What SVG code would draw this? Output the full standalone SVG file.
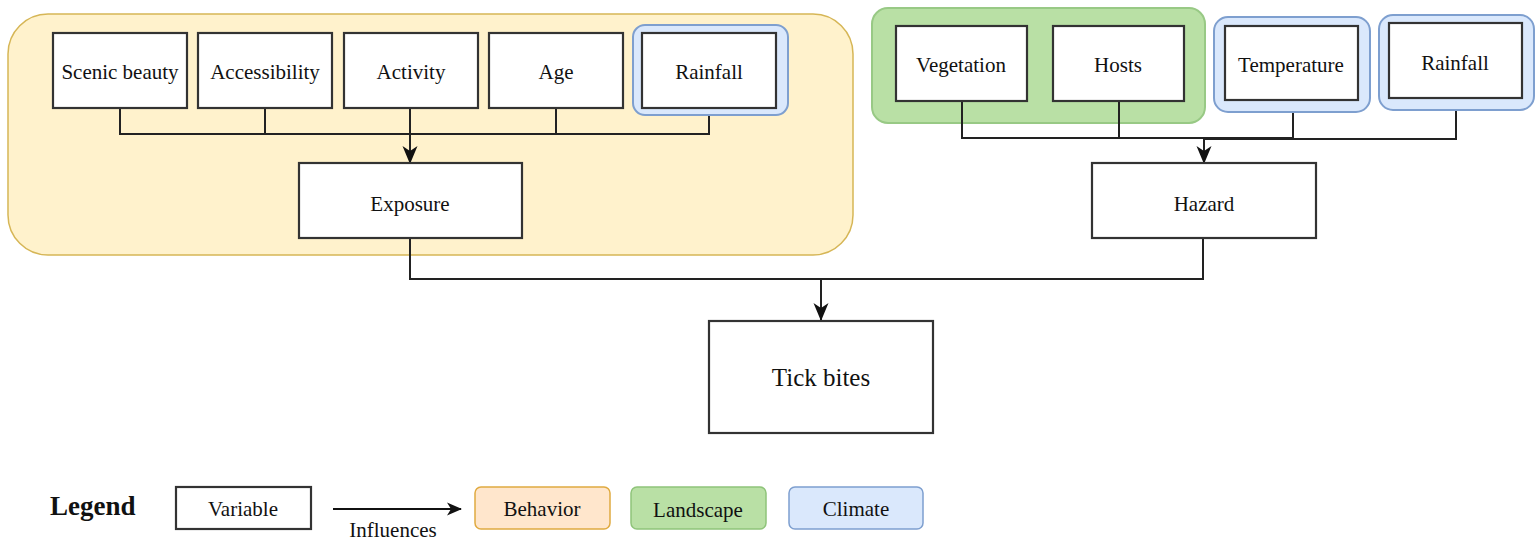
<svg xmlns="http://www.w3.org/2000/svg" width="1536" height="540" viewBox="0 0 1536 540">
<style>
  .box { fill: #ffffff; stroke: #333333; stroke-width: 2.2; }
  .lbl { font-family: "Liberation Serif", "Times New Roman", serif; font-size: 21px; fill: #111111; text-anchor: middle; }
  .conn { fill: none; stroke: #222222; stroke-width: 2; }
  .climate { fill: #dae8fc; stroke: #7e9fcf; stroke-width: 2; }
  .landscape { fill: #b9e0a5; stroke: #98c985; stroke-width: 2; }
  .behavior { fill: #fff2cc; stroke: #d6b656; stroke-width: 1.5; }
</style>
<defs>
  <marker id="arr" markerUnits="userSpaceOnUse" markerWidth="18" markerHeight="18" viewBox="0 0 18 18" refX="17" refY="9" orient="auto">
    <path d="M0,1.5 L18,9 L0,16.5 L5,9 z" fill="#111111"/>
  </marker>
  <marker id="arrs" markerUnits="userSpaceOnUse" markerWidth="15" markerHeight="15" viewBox="0 0 15 15" refX="14" refY="7.5" orient="auto">
    <path d="M0,1 L15,7.5 L0,14 L4,7.5 z" fill="#111111"/>
  </marker>
</defs>

<g id="group-behavior">
  <rect class="behavior" x="8" y="14" width="845" height="241" rx="40"/>
</g>
<g id="group-landscape">
  <rect class="landscape" x="872" y="8" width="333" height="115" rx="16"/>
</g>

<g id="connectors">
  <path class="conn" d="M120,108 V134 H709 V115"/>
  <path class="conn" d="M265,108 V134"/>
  <path class="conn" d="M556,108 V134"/>
  <path class="conn" d="M410,108 V163" marker-end="url(#arr)"/>
  <path class="conn" d="M962,101 V138 H1293 V112"/>
  <path class="conn" d="M1119,101 V138"/>
  <path class="conn" d="M1456,98 V139 H1204"/>
  <path class="conn" d="M1204,138 V163" marker-end="url(#arr)"/>
  <path class="conn" d="M410,238 V279 H1203 V238"/>
  <path class="conn" d="M821,279 V320" marker-end="url(#arr)"/>
</g>

<g id="node-scenic">
  <rect class="box" x="53" y="33" width="134" height="75"/>
  <text class="lbl" x="120" y="79">Scenic beauty</text>
</g>
<g id="node-accessibility">
  <rect class="box" x="198" y="33" width="134" height="75"/>
  <text class="lbl" x="265" y="79">Accessibility</text>
</g>
<g id="node-activity">
  <rect class="box" x="344" y="33" width="134" height="75"/>
  <text class="lbl" x="411" y="79">Activity</text>
</g>
<g id="node-age">
  <rect class="box" x="489" y="33" width="134" height="75"/>
  <text class="lbl" x="556" y="79">Age</text>
</g>
<g id="node-rainfall1">
  <rect class="climate" x="633" y="25" width="155" height="90" rx="12"/>
  <rect class="box" x="642" y="33" width="134" height="75"/>
  <text class="lbl" x="709" y="79">Rainfall</text>
</g>
<g id="node-exposure">
  <rect class="box" x="299" y="163" width="223" height="75"/>
  <text class="lbl" x="410" y="211">Exposure</text>
</g>

<g id="node-vegetation">
  <rect class="box" x="896" y="26" width="131" height="75"/>
  <text class="lbl" x="961" y="72">Vegetation</text>
</g>
<g id="node-hosts">
  <rect class="box" x="1053" y="26" width="131" height="75"/>
  <text class="lbl" x="1118" y="72">Hosts</text>
</g>
<g id="node-temperature">
  <rect class="climate" x="1214" y="17" width="156" height="95" rx="14"/>
  <rect class="box" x="1225" y="26" width="133" height="74"/>
  <text class="lbl" x="1291" y="72">Temperature</text>
</g>
<g id="node-rainfall2">
  <rect class="climate" x="1379" y="15" width="155" height="95" rx="14"/>
  <rect class="box" x="1389" y="23" width="133" height="75"/>
  <text class="lbl" x="1455" y="70">Rainfall</text>
</g>
<g id="node-hazard">
  <rect class="box" x="1092" y="163" width="224" height="75"/>
  <text class="lbl" x="1204" y="211">Hazard</text>
</g>
<g id="node-tickbites">
  <rect class="box" x="709" y="321" width="224" height="112"/>
  <text class="lbl" x="821" y="386" style="font-size:25px">Tick bites</text>
</g>

<g id="legend">
  <text x="50" y="515" style="font-family:'Liberation Serif','Times New Roman',serif;font-size:27px;font-weight:bold;fill:#111">Legend</text>
  <rect class="box" x="176" y="487" width="135" height="42"/>
  <text class="lbl" x="243" y="516">Variable</text>
  <path d="M333,509 H461" stroke="#111" stroke-width="2" fill="none" marker-end="url(#arrs)"/>
  <text class="lbl" x="393" y="537">Influences</text>
  <rect x="475" y="487" width="135" height="42" rx="6" fill="#ffe6cc" stroke="#e0aa40" stroke-width="1.5"/>
  <text class="lbl" x="542" y="516">Behavior</text>
  <rect x="631" y="487" width="135" height="42" rx="6" fill="#b9e0a5" stroke="#8fc47a" stroke-width="1.5"/>
  <text class="lbl" x="698" y="517">Landscape</text>
  <rect x="789" y="487" width="134" height="42" rx="6" fill="#dae8fc" stroke="#7e9fcf" stroke-width="1.5"/>
  <text class="lbl" x="856" y="516">Climate</text>
</g>
</svg>
